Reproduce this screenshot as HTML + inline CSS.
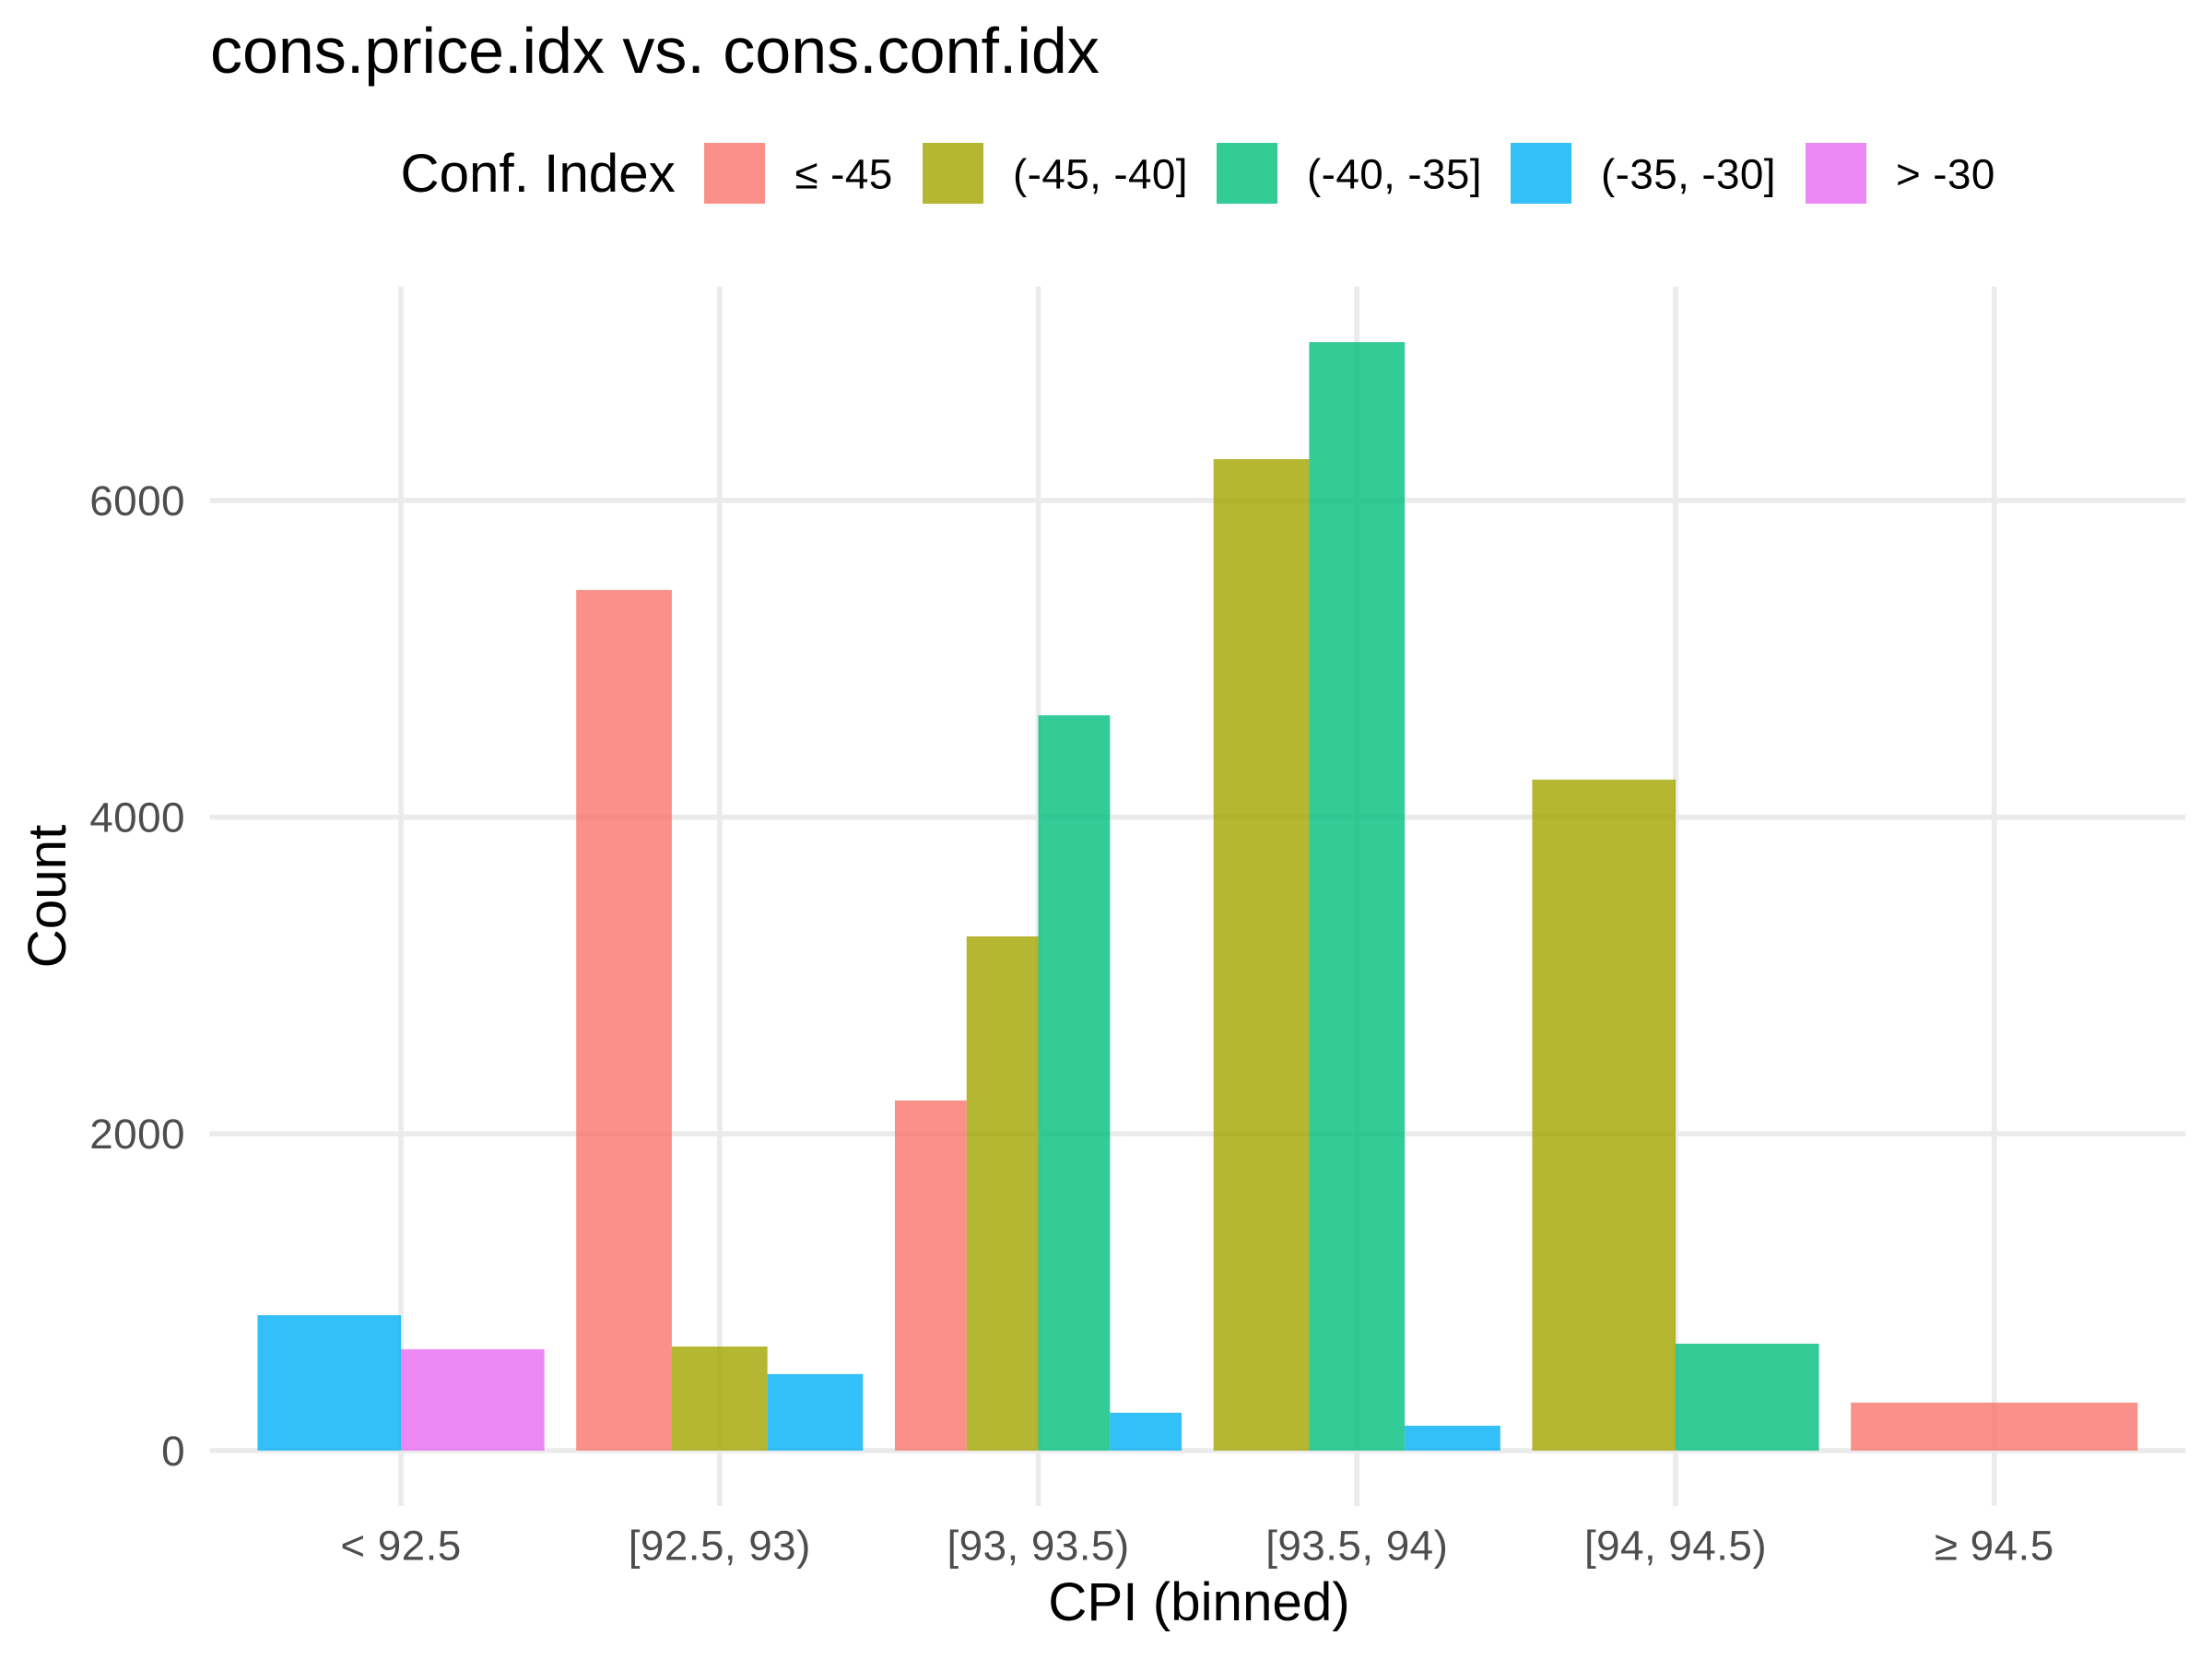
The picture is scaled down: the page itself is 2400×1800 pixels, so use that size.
<!DOCTYPE html>
<html lang="en">
<head>
<meta charset="utf-8">
<title>cons.price.idx vs. cons.conf.idx</title>
<style>
  html, body { margin: 0; padding: 0; background: #ffffff; }
  svg { display: block; }
  text { font-family: "Liberation Sans", Arial, sans-serif; }
  .axis-tick { font-size: 45.83px; fill: #4d4d4d; letter-spacing: 0.45px; }
  .axis-title { font-size: 58.33px; fill: #000000; }
  .legend-label { font-size: 45.83px; fill: #000000; letter-spacing: 0.4px; }
</style>
</head>
<body>
<svg id="chart" xmlns="http://www.w3.org/2000/svg" width="2400" height="1800" viewBox="0 0 2400 1800">
  <rect x="0" y="0" width="2400" height="1800" fill="#ffffff"/>
  <text x="228" y="79" font-size="70" fill="#000000">cons.price.idx vs. cons.conf.idx</text>

  <g>
    <text x="434.5" y="208" font-size="58.33" fill="#000000">Conf. Index</text>
    <g>
      <rect x="764" y="155" width="66" height="66" fill="#F8766D" fill-opacity="0.8"/>
      <text class="legend-label" x="862.5" y="204.5">≤ -45</text>
    </g>
    <g>
      <rect x="1001" y="155" width="66" height="66" fill="#A3A500" fill-opacity="0.8"/>
      <text class="legend-label" x="1099" y="204.5">(-45, -40]</text>
    </g>
    <g>
      <rect x="1320" y="155" width="66" height="66" fill="#00BF7D" fill-opacity="0.8"/>
      <text class="legend-label" x="1418" y="204.5">(-40, -35]</text>
    </g>
    <g>
      <rect x="1639" y="155" width="66" height="66" fill="#00B0F6" fill-opacity="0.8"/>
      <text class="legend-label" x="1737" y="204.5">(-35, -30]</text>
    </g>
    <g>
      <rect x="1959" y="155" width="66" height="66" fill="#E76BF3" fill-opacity="0.8"/>
      <text class="legend-label" x="2057" y="204.5">&gt; -30</text>
    </g>
  </g>

  <g id="grid"></g>
  <g id="bars"></g>
  <g id="y-ticks"></g>
  <g id="x-ticks"></g>

  <text class="axis-title" x="1301" y="1758" text-anchor="middle">CPI (binned)</text>
  <text class="axis-title" x="71" y="972.5" text-anchor="middle" transform="rotate(-90 71 972.5)">Count</text>
</svg>

<script>
// Chart data
const categories = ["< 92.5", "[92.5, 93)", "[93, 93.5)", "[93.5, 94)", "[94, 94.5)", "≥ 94.5"];
const seriesLe45 = [null, 5435, 2211, null, null, 303];
const series45to40 = [null, 657, 3247, 6261, 4237, null];
const series40to35 = [null, null, 4643, 7000, 675, null];
const series35to30 = [855, 483, 239, 157, null, null];
const seriesGt30 = [640, null, null, null, null, null];
const yTickValues = [0, 2000, 4000, 6000];
const yTickLabels = ["0", "2000", "4000", "6000"];
const seriesNames = ["le-45", "45-40", "40-35", "35-30", "gt-30"];

const allSeries = [seriesLe45, series45to40, series40to35, series35to30, seriesGt30];
const seriesColors = ["#F8766D", "#A3A500", "#00BF7D", "#00B0F6", "#E76BF3"];

const SVG_NS = "http://www.w3.org/2000/svg";
const panel = { left: 227.6, right: 2371.2, top: 311, bottom: 1634 };
const yDomain = [-350, 7350];
const xExpand = 0.6;
const barTotalWidth = 0.9;
const gridWidth = 5.6;

function xScale(position) {
  const span = categories.length - 1 + 2 * xExpand;
  return panel.left + (position + xExpand) / span * (panel.right - panel.left);
}

function yScale(value) {
  return panel.bottom - (value - yDomain[0]) / (yDomain[1] - yDomain[0]) * (panel.bottom - panel.top);
}

function make(tag, attrs) {
  const el = document.createElementNS(SVG_NS, tag);
  Object.keys(attrs).forEach(function (key) { el.setAttribute(key, attrs[key]); });
  return el;
}

const gridGroup = document.getElementById("grid");
const barGroup = document.getElementById("bars");
const yTickGroup = document.getElementById("y-ticks");
const xTickGroup = document.getElementById("x-ticks");

yTickValues.forEach(function (value, i) {
  const y = yScale(value);
  const line = make("line", { x1: panel.left, x2: panel.right, y1: y, y2: y, stroke: "#ebebeb", "stroke-width": gridWidth });
  
  
  gridGroup.appendChild(line);

  const label = make("text", { class: "axis-tick", x: 201, y: y + 16, "text-anchor": "end" });
  label.textContent = yTickLabels[i];
  
  
  yTickGroup.appendChild(label);
});

categories.forEach(function (category, c) {
  const x = xScale(c);
  const line = make("line", { x1: x, x2: x, y1: panel.top, y2: panel.bottom, stroke: "#ebebeb", "stroke-width": gridWidth });
  
  
  gridGroup.appendChild(line);

  const label = make("text", { class: "axis-tick", x: x, y: 1692.5, "text-anchor": "middle" });
  label.textContent = category;
  
  
  xTickGroup.appendChild(label);

  // Bars in a category share the full dodge width equally
  const present = [];
  allSeries.forEach(function (series, s) {
    if (series[c] !== null) { present.push(s); }
  });
  const barWidth = barTotalWidth / present.length;
  present.forEach(function (s, slot) {
    const value = allSeries[s][c];
    const x0 = xScale(c - barTotalWidth / 2 + slot * barWidth);
    const x1 = xScale(c - barTotalWidth / 2 + (slot + 1) * barWidth);
    const yTop = yScale(value);
    const yBase = yScale(0);
    const bar = make("rect", {
      x: x0,
      y: yTop,
      width: x1 - x0,
      height: yBase - yTop,
      fill: seriesColors[s],
      "fill-opacity": 0.8
    });
    
    
    barGroup.appendChild(bar);
  });
});
</script>
</body>
</html>
